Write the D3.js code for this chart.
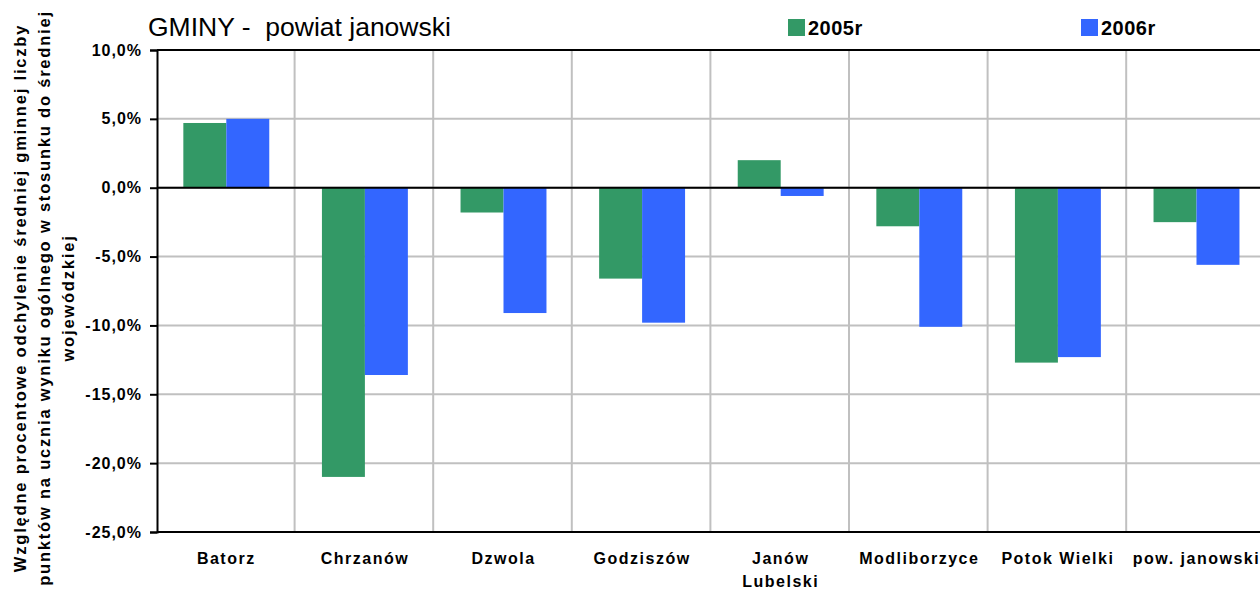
<!DOCTYPE html>
<html>
<head>
<meta charset="utf-8">
<script src="https://cdn.jsdelivr.net/npm/d3@7/dist/d3.min.js"></script>
<style>
    body { margin: 0; background: #fff; }
    #chart svg { display: block; font-family: "Liberation Sans", Arial, sans-serif; }
</style>
</head>
<body>
<div id="chart"></div>
<script>
const categories = ["Batorz", "Chrzanów", "Dzwola", "Godziszów", "Janów Lubelski", "Modliborzyce", "Potok Wielki", "pow. janowski"];
const categoryLabels = [["Batorz"], ["Chrzanów"], ["Dzwola"], ["Godziszów"], ["Janów", "Lubelski"], ["Modliborzyce"], ["Potok Wielki"], ["pow. janowski"]];
const seriesNames = ["2005r", "2006r"];
const values2005 = [4.7, -21.0, -1.8, -6.6, 2.0, -2.8, -12.7, -2.5];
const values2006 = [5.0, -13.6, -9.1, -9.8, -0.6, -10.1, -12.3, -5.6];
const yTicks = [10, 5, 0, -5, -10, -15, -20, -25];
const titleText = "GMINY -  powiat janowski";
const yTitleLines = [
    "Względne procentowe odchylenie średniej gminnej liczby",
    "punktów na ucznia wyniku ogólnego w stosunku do średniej",
    "wojewódzkiej"
];

document.addEventListener("DOMContentLoaded", function() {
    renderChart();
});

function renderChart() {
    const width = 1260;
    const height = 589;
    const colors = ["#339966", "#3366ff"];
    const gridColor = "#c0c0c0";

    // plot box (runs a bit past the right edge, like the original)
    const left = 157, top = 50, bottom = 532;
    const step = 138.6;
    const right = left + step * categories.length;

    const svg = d3.select("#chart")
        .append("svg")
        .attr("width", width)
        .attr("height", height);

    const x0 = d3.scaleBand()
        .domain(categories)
        .range([left, right])
        .paddingInner(0.38)
        .paddingOuter(0.19);

    const x1 = d3.scaleBand()
        .domain(seriesNames)
        .range([0, x0.bandwidth()]);

    const y = d3.scaleLinear()
        .domain([-25, 10])
        .range([bottom, top]);

    const pl = d3.formatLocale({ decimal: ",", thousands: " ", grouping: [3], currency: ["", " zł"], minus: "-" });
    const fmt = pl.format(".1f");

    // horizontal grid
    svg.append("g")
        .selectAll("line")
        .data(yTicks)
        .enter()
        .append("line")
        .attr("x1", left)
        .attr("x2", width)
        .attr("y1", d => y(d))
        .attr("y2", d => y(d))
        .attr("stroke", gridColor)
        .attr("stroke-width", 2);

    // vertical grid between categories
    svg.append("g")
        .selectAll("line")
        .data(categories.slice(1))
        .enter()
        .append("line")
        .attr("x1", d => x0(d) - x0.step() * x0.paddingInner() / 2 - 1)
        .attr("x2", d => x0(d) - x0.step() * x0.paddingInner() / 2 - 1)
        .attr("y1", top)
        .attr("y2", bottom)
        .attr("stroke", gridColor)
        .attr("stroke-width", 2);

    const rows = categories.map((c, i) => ({ name: c, vals: [values2005[i], values2006[i]] }));

    const groups = svg.append("g")
        .selectAll("g")
        .data(rows)
        .enter()
        .append("g")
        .attr("transform", d => `translate(${x0(d.name)},0)`);

    groups.selectAll("rect")
        .data(d => d.vals.map((v, j) => ({ key: seriesNames[j], value: v, j: j })))
        .enter()
        .append("rect")
        .attr("x", d => x1(d.key))
        .attr("width", x1.bandwidth())
        .attr("y", d => y(Math.max(0, d.value)))
        .attr("height", d => Math.abs(y(d.value) - y(0)))
        .attr("fill", d => colors[d.j]);

    // zero line + top and bottom border
    [0, 10, -25].forEach(v => {
        svg.append("line")
            .attr("x1", left)
            .attr("x2", width)
            .attr("y1", y(v))
            .attr("y2", y(v))
            .attr("stroke", "#000")
            .attr("stroke-width", 2);
    });

    const yAxis = svg.append("g")
        .attr("transform", `translate(${left},0)`)
        .call(d3.axisLeft(y).tickValues(yTicks).tickSize(7).tickPadding(8).tickFormat(d => fmt(d) + "%"));
    yAxis.select(".domain").attr("stroke", "#000").attr("stroke-width", 2);
    yAxis.selectAll(".tick line").attr("stroke", "#000").attr("stroke-width", 2);
    yAxis.selectAll("text")
        .attr("fill", "#000")
        .style("font-family", '"Liberation Sans", Arial, sans-serif')
        .style("font-size", "16px")
        .style("font-weight", "bold")
        .style("letter-spacing", "1px");

    // category labels
    const xl = svg.append("g")
        .selectAll("text")
        .data(categories)
        .enter()
        .append("text")
        .attr("x", d => x0(d) + x0.bandwidth() / 2)
        .attr("y", 564)
        .attr("text-anchor", "middle")
        .style("font-size", "16px")
        .style("font-weight", "bold")
        .style("letter-spacing", "1.5px");

    xl.each(function(d, i) {
        const t = d3.select(this);
        categoryLabels[i].forEach((line, k) => {
            t.append("tspan")
                .attr("x", x0(d) + x0.bandwidth() / 2)
                .attr("dy", k === 0 ? 0 : 23)
                .text(line);
        });
    });

    // y title, three rotated lines
    svg.append("g")
        .selectAll("text")
        .data(yTitleLines)
        .enter()
        .append("text")
        .attr("transform", (d, i) => `translate(${26 + i * 24},298) rotate(-90)`)
        .attr("text-anchor", "middle")
        .style("font-size", "16.5px")
        .style("font-weight", "bold")
        .style("letter-spacing", "1.8px")
        .text(d => d);

    // title
    svg.append("text")
        .attr("x", 148)
        .attr("y", 36)
        .style("font-size", "26.5px")
        .style("white-space", "pre")
        .text(titleText);

    // legend
    const legendX = [788, 1081];
    const legend = svg.append("g")
        .selectAll("g")
        .data(seriesNames)
        .enter()
        .append("g")
        .attr("transform", (d, i) => `translate(${legendX[i]},19)`);

    legend.append("rect")
        .attr("width", 17)
        .attr("height", 17)
        .attr("fill", (d, i) => colors[i]);

    legend.append("text")
        .attr("x", 20)
        .attr("y", 16)
        .style("font-size", "20px")
        .style("font-weight", "bold")
        .style("letter-spacing", "0.5px")
        .text(d => d);
}
</script>
</body>
</html>
